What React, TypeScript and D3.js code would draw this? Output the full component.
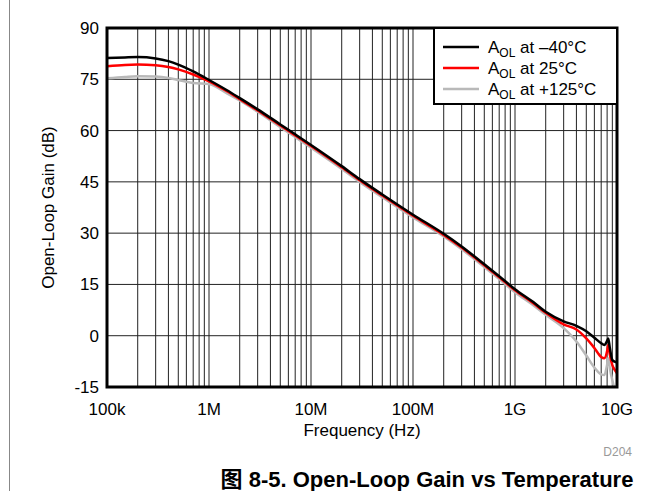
import * as d3 from "d3";

// frequency points (Hz) shared by all three curves
const freqs = [
  1e5, 1.5e5, 2e5, 3e5, 4e5, 5e5, 7e5, 1e6, 1.5e6, 2e6, 3e6, 5e6, 7e6, 1e7, 2e7, 3e7, 5e7,
  1e8, 2e8, 3e8, 5e8, 7e8, 1e9, 1.5e9, 2e9, 3e9, 4e9, 5e9, 6e9, 7e9, 7.5e9, 8e9, 8.2e9,
  8.5e9, 9e9, 9.5e9, 1e10,
];

// open-loop gain (dB)
const gainCold = [
  81.2, 81.4, 81.5, 81.1, 80.3, 79.3, 77.3, 74.8, 71.8, 69.5, 66.2, 61.8, 58.9, 55.8, 49.6, 45.8, 41.3,
  35.4, 29.8, 26.1, 20.9, 17.4, 13.6, 9.9, 7.0, 4.2, 2.9, 1.3, -0.6, -2.2, -2.7, -1.5, -0.8,
  -3.5, -7.1, -7.6, -7.8,
];
const gainRoom = [
  78.8, 79.2, 79.3, 79.1, 78.6, 77.9, 76.4, 74.4, 71.5, 69.2, 65.9, 61.5, 58.6, 55.5, 49.3, 45.5, 41.0,
  35.1, 29.5, 25.8, 20.6, 17.1, 13.3, 9.6, 6.7, 3.3, 1.8, -0.8, -3.6, -6.2, -6.6, -4.5, -2.7,
  -5.5, -8.6, -10, -11,
];
const gainHot = [
  75.3, 75.7, 75.9, 75.8, 75.4, 74.8, 73.9, 73.6, 70.9, 68.8, 65.5, 61, 58.1, 55, 48.8, 45.0, 40.5,
  34.6, 29.0, 25.3, 20.1, 16.6, 12.7, 9.0, 6.1, 2.2, -1.7, -5.8, -9.3, -11.3, -11.5, -8.5, -6.6,
  -9.5, -13, -15.5, -16,
];

const seriesNames = ["at \u201340\u00b0C", "at 25\u00b0C", "at +125\u00b0C"];
const seriesColors = ["#000000", "#ff0000", "#b9b9b9"];

const yTicks = [-15, 0, 15, 30, 45, 60, 75, 90];
const xTicks = [1e5, 1e6, 1e7, 1e8, 1e9, 1e10];
const xTickLabels = ["100k", "1M", "10M", "100M", "1G", "10G"];

const font = "'Liberation Sans', Arial, 'Noto Sans CJK SC', sans-serif";

export default function App() {
  const width = 646;
  const height = 491;
  const margin = { top: 28, right: 29, bottom: 104, left: 107 };
  const plotW = width - margin.left - margin.right;
  const plotH = height - margin.top - margin.bottom;

  const x = d3.scaleLog().domain([1e5, 1e10]).range([margin.left, margin.left + plotW]);
  const y = d3.scaleLinear().domain([-15, 90]).range([margin.top + plotH, margin.top]);

  const minor = x.ticks();

  const line = d3
    .line<[number, number]>()
    .x((d) => x(d[0]))
    .y((d) => y(d[1]))
    .curve(d3.curveMonotoneX);

  const series = [gainCold, gainRoom, gainHot].map((vals) =>
    freqs.map((f, i) => [f, vals[i]] as [number, number])
  );

  const legend = { x: 434, y: margin.top, w: margin.left + plotW - 434, h: 76 };

  return (
    <svg
      width={width}
      height={height}
      style={{ position: "absolute", left: 0, top: 0, background: "#fff" }}
      fontFamily={font}
    >
      <line x1={9.5} x2={9.5} y1={0} y2={height} stroke="#888" strokeWidth={1} />
      <defs>
        <clipPath id="plotClip">
          <rect x={margin.left} y={margin.top} width={plotW} height={plotH} />
        </clipPath>
      </defs>

      {/* grid */}
      <g stroke="#222" strokeWidth={1}>
        {minor.map((t, i) => (
          <line key={"v" + i} x1={x(t)} x2={x(t)} y1={margin.top} y2={margin.top + plotH} />
        ))}
        {yTicks.map((t) => (
          <line key={"h" + t} x1={margin.left} x2={margin.left + plotW} y1={y(t)} y2={y(t)} />
        ))}
      </g>

      {/* curves, hot first so cold is on top */}
      <g clipPath="url(#plotClip)" fill="none" strokeWidth={2.5}>
        {[2, 1, 0].map((k) => (
          <path key={k} d={line(series[k]) || ""} stroke={seriesColors[k]} />
        ))}
      </g>

      <rect
        x={margin.left}
        y={margin.top}
        width={plotW}
        height={plotH}
        fill="none"
        stroke="#000"
        strokeWidth={3}
      />

      {/* legend */}
      <rect x={legend.x} y={legend.y} width={legend.w} height={legend.h} fill="#fff" stroke="#000" strokeWidth={2} />
      {seriesNames.map((name, i) => {
        const cy = 47 + i * 21;
        return (
          <g key={name}>
            <line x1={443} x2={479} y1={cy} y2={cy} stroke={seriesColors[i]} strokeWidth={2.5} />
            <text x={488} y={cy + 6} fontSize={17} fill="#000">
              A
              <tspan fontSize={12} dy={4}>OL</tspan>
              <tspan dy={-4}> {name}</tspan>
            </text>
          </g>
        );
      })}

      {/* axes labels */}
      {yTicks.map((t) => (
        <text key={"yl" + t} x={99} y={y(t) + 6} textAnchor="end" fontSize={17} fill="#000">
          {t}
        </text>
      ))}
      {xTicks.map((t, i) => (
        <text key={"xl" + t} x={x(t)} y={415} textAnchor="middle" fontSize={17} fill="#000">
          {xTickLabels[i]}
        </text>
      ))}
      <text x={margin.left + plotW / 2} y={436} textAnchor="middle" fontSize={17} fill="#000">
        Frequency (Hz)
      </text>
      <text
        transform={`translate(${54},${margin.top + plotH / 2}) rotate(-90)`}
        textAnchor="middle"
        fontSize={17}
        fill="#000"
      >
        Open-Loop Gain (dB)
      </text>
      <text x={632} y={456} textAnchor="end" fontSize={12} fill="#999">
        D204
      </text>
      <text x={427} y={487} textAnchor="middle" fontSize={22} fontWeight="bold" fill="#000">
        图 8-5. Open-Loop Gain vs Temperature
      </text>
    </svg>
  );
}
